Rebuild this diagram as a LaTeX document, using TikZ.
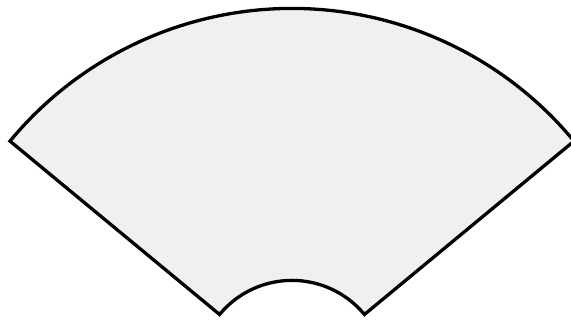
\documentclass[tikz,border=0pt]{standalone}
\definecolor{sectorfill}{HTML}{F0F0F0}
\tikzset{sector/.style={draw=black, line width=3.3pt, fill=sectorfill, line join=miter}}
\begin{document}
\begin{tikzpicture}[x=1pt,y=1pt]
\useasboundingbox (0,0) rectangle (571,320);
\coordinate (c) at (292,-54.4);
\begin{scope}
\clip (0,0) rectangle (571,320);
\draw[sector] ([shift={(c)}]39.6:94pt) -- ([shift={(c)}]39.6:366pt)
  arc[start angle=39.6, end angle=140.4, radius=366pt]
  -- ([shift={(c)}]140.4:94pt)
  arc[start angle=140.4, end angle=39.6, radius=94pt] -- cycle;
\end{scope}
\end{tikzpicture}
\end{document}
